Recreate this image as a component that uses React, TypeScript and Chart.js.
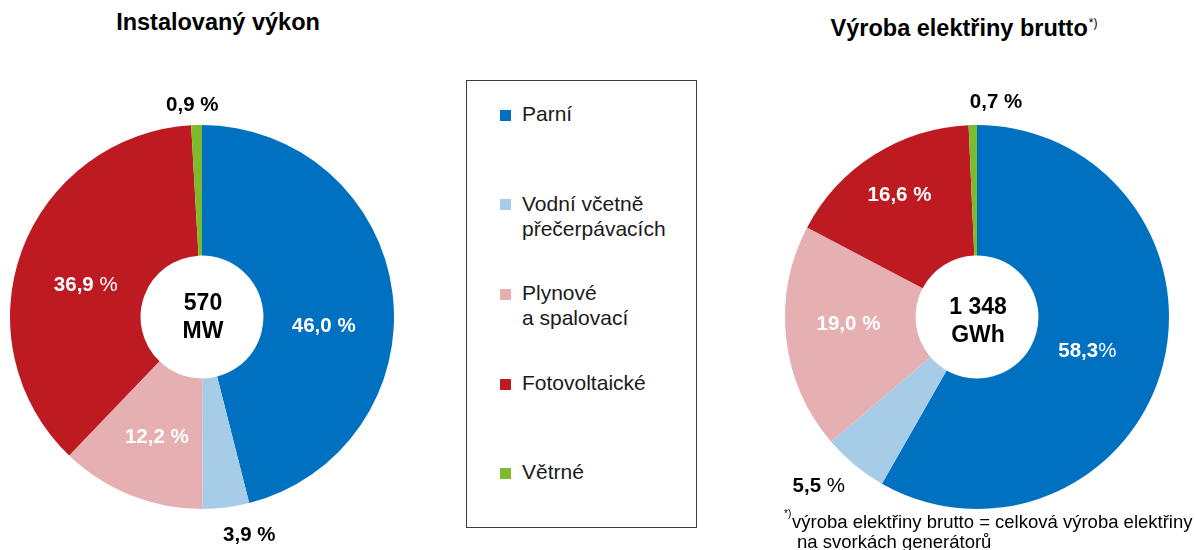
import React, { useEffect, useRef } from "react";
import { Chart, registerables } from "chart.js";

Chart.register(...registerables);

// ---------- data ----------
const categories = ["Parní", "Vodní včetně\npřečerpávacích", "Plynové\na spalovací", "Fotovoltaické", "Větrné"];
const sliceColors = ["#0070C0", "#A7CCE7", "#E6AFB2", "#BE1A22", "#7EBA2E"];
const installedShares = [46.0, 3.9, 12.2, 36.9, 0.9];
const productionShares = [58.3, 5.5, 19.0, 16.6, 0.7];
const installedCenter = ["570", "MW"];
const productionCenter = ["1 348", "GWh"];
const installedTitle = "Instalovaný výkon";
const productionTitle = "Výroba elektřiny brutto";
const footnoteLines = ["výroba elektřiny brutto = celková výroba elektřiny", "na svorkách generátorů"];

const FONT = '"Liberation Sans", Arial, Helvetica, sans-serif';

type LabelStyle = { r: number; da: number; color: string; sep: string; pctBold: boolean };

// label placement relative to each arc (radius factor, angle nudge in degrees)
const installedLabelLayout: LabelStyle[] = [
  { r: 0.635, da: 10.5, color: "#fff", sep: " ", pctBold: true },
  { r: 1.155, da: -5.1, color: "#000", sep: " ", pctBold: true },
  { r: 0.66, da: -0.9, color: "#fff", sep: " ", pctBold: true },
  { r: 0.63, da: -4.2, color: "#fff", sep: " ", pctBold: false },
  { r: 1.11, da: -1.0, color: "#000", sep: " ", pctBold: true },
];
const productionLabelLayout: LabelStyle[] = [
  { r: 0.6, da: 1.8, color: "#fff", sep: "", pctBold: false },
  { r: 1.2, da: 3.8, color: "#000", sep: " ", pctBold: false },
  { r: 0.67, da: 3.9, color: "#fff", sep: " ", pctBold: true },
  { r: 0.76, da: 0.3, color: "#fff", sep: " ", pctBold: true },
  { r: 1.13, da: 6.3, color: "#000", sep: " ", pctBold: true },
];

const doughnutText = {
  id: "doughnutText",
  afterDatasetsDraw(chart: any, _args: any, opts: any) {
    const ctx = chart.ctx as CanvasRenderingContext2D;
    const meta = chart.getDatasetMeta(0);
    const data = chart.data.datasets[0].data as number[];
    const fs = opts.labelSize;
    ctx.save();
    ctx.textBaseline = "alphabetic";
    meta.data.forEach((arc: any, i: number) => {
      const p = arc.getProps(["x", "y", "startAngle", "endAngle", "outerRadius"], true);
      const L: LabelStyle = opts.layout[i];
      const a = (p.startAngle + p.endAngle) / 2 + (L.da * Math.PI) / 180;
      const cx = p.x + Math.cos(a) * p.outerRadius * L.r;
      const cy = p.y + Math.sin(a) * p.outerRadius * L.r;
      const num = data[i].toFixed(1).replace(".", ",") + L.sep;
      const bold = `bold ${fs}px ${FONT}`;
      const pctFont = L.pctBold ? bold : `${fs}px ${FONT}`;
      ctx.font = bold;
      const w1 = ctx.measureText(num).width;
      ctx.font = pctFont;
      const w2 = ctx.measureText("%").width;
      const x0 = cx - (w1 + w2) / 2;
      const base = cy + fs * 0.36;
      ctx.fillStyle = L.color;
      ctx.textAlign = "left";
      ctx.font = bold;
      ctx.fillText(num, x0, base);
      ctx.font = pctFont;
      ctx.fillText("%", x0 + w1, base);
    });
    const c = meta.data[0].getProps(["x", "y"], true);
    ctx.fillStyle = "#000";
    ctx.textAlign = "center";
    ctx.font = `bold ${opts.centerSize}px ${FONT}`;
    const lines: string[] = opts.center;
    lines.forEach((t, k) => {
      const y = c.y + opts.centerDy + (k - (lines.length - 1) / 2) * opts.centerGap;
      ctx.fillText(t, c.x + 1, y + opts.centerSize * 0.36);
    });
    ctx.restore();
  },
};

type Box = { x: number; y: number; w: number; h: number };

function DoughnutChart(props: {
  values: number[];
  layout: LabelStyle[];
  center: string[];
  centerDy: number;
  box: Box;
  padding: { left: number; right: number; top: number; bottom: number };
}) {
  const ref = useRef<HTMLCanvasElement>(null);
  useEffect(() => {
    const chart = new Chart(ref.current as HTMLCanvasElement, {
      type: "doughnut",
      data: {
        labels: categories.map((c) => c.replace("\n", " ")),
        datasets: [{ data: props.values, backgroundColor: sliceColors, borderWidth: 0 }],
      },
      options: {
        responsive: false,
        animation: false,
        events: [],
        cutout: "32%",
        rotation: 0,
        layout: { padding: props.padding },
        plugins: {
          legend: { display: false },
          tooltip: { enabled: false },
          // @ts-ignore
          doughnutText: {
            layout: props.layout,
            labelSize: 20.5,
            center: props.center,
            centerSize: 23,
            centerGap: 28.5,
            centerDy: props.centerDy,
          },
        },
      } as any,
      plugins: [doughnutText as any],
    });
    return () => chart.destroy();
  }, []);
  const b = props.box;
  return (
    <canvas
      ref={ref}
      width={b.w}
      height={b.h}
      style={{ position: "absolute", left: b.x, top: b.y, width: b.w, height: b.h }}
    />
  );
}

export default function App() {
  const titleStyle: React.CSSProperties = {
    position: "absolute",
    fontFamily: FONT,
    fontWeight: "bold",
    fontSize: 23.5,
    lineHeight: "23px",
    whiteSpace: "nowrap",
    color: "#000",
    transform: "translateX(-50%)",
  };
  return (
    <div
      style={{
        position: "absolute",
        left: 0,
        top: 0,
        width: 1195,
        height: 550,
        overflow: "hidden",
        background: "#fff",
        fontFamily: FONT,
      }}
    >
      <div style={{ ...titleStyle, left: 218, top: 10.5 }}>{installedTitle}</div>
      <div style={{ ...titleStyle, left: 964, top: 16.5 }}>
        {productionTitle}
        <span style={{ fontSize: 12, fontWeight: "normal", position: "relative", top: -9, marginLeft: 1 }}>*)</span>
      </div>

      <DoughnutChart
        values={installedShares}
        layout={installedLabelLayout}
        center={installedCenter}
        centerDy={-1.5}
        box={{ x: 0, y: 85, w: 404, h: 465 }}
        padding={{ left: 10, right: 10, top: 40, bottom: 41 }}
      />
      <DoughnutChart
        values={productionShares}
        layout={productionLabelLayout}
        center={productionCenter}
        centerDy={2.75}
        box={{ x: 770, y: 85, w: 425, h: 465 }}
        padding={{ left: 15, right: 26, top: 40, bottom: 41 }}
      />

      {/* legend */}
      <div
        style={{
          position: "absolute",
          left: 466,
          top: 80,
          width: 229,
          height: 446,
          border: "1.5px solid #3c3c3c",
        }}
      />
      {categories.map((c, i) => (
        <React.Fragment key={c}>
          <div
            style={{
              position: "absolute",
              left: 500,
              top: 109.7 + i * 89.6,
              width: 11,
              height: 11,
              background: sliceColors[i],
            }}
          />
          <div
            style={{
              position: "absolute",
              left: 522,
              top: 101 + i * 89.6,
              fontSize: 21,
              lineHeight: "25px",
              color: "#1a1a1a",
              whiteSpace: "pre",
            }}
          >
            {c}
          </div>
        </React.Fragment>
      ))}

      {/* footnote */}
      <div style={{ position: "absolute", left: 784, top: 509, fontSize: 10, lineHeight: "10px", color: "#000" }}>*)</div>
      <div
        style={{
          position: "absolute",
          left: 792,
          top: 511.5,
          fontSize: 18.5,
          lineHeight: "20.5px",
          color: "#000",
          whiteSpace: "nowrap",
        }}
      >
        {footnoteLines[0]}
      </div>
      <div
        style={{
          position: "absolute",
          left: 797,
          top: 532,
          fontSize: 18.5,
          lineHeight: "20.5px",
          color: "#000",
          whiteSpace: "nowrap",
        }}
      >
        {footnoteLines[1]}
      </div>
    </div>
  );
}
